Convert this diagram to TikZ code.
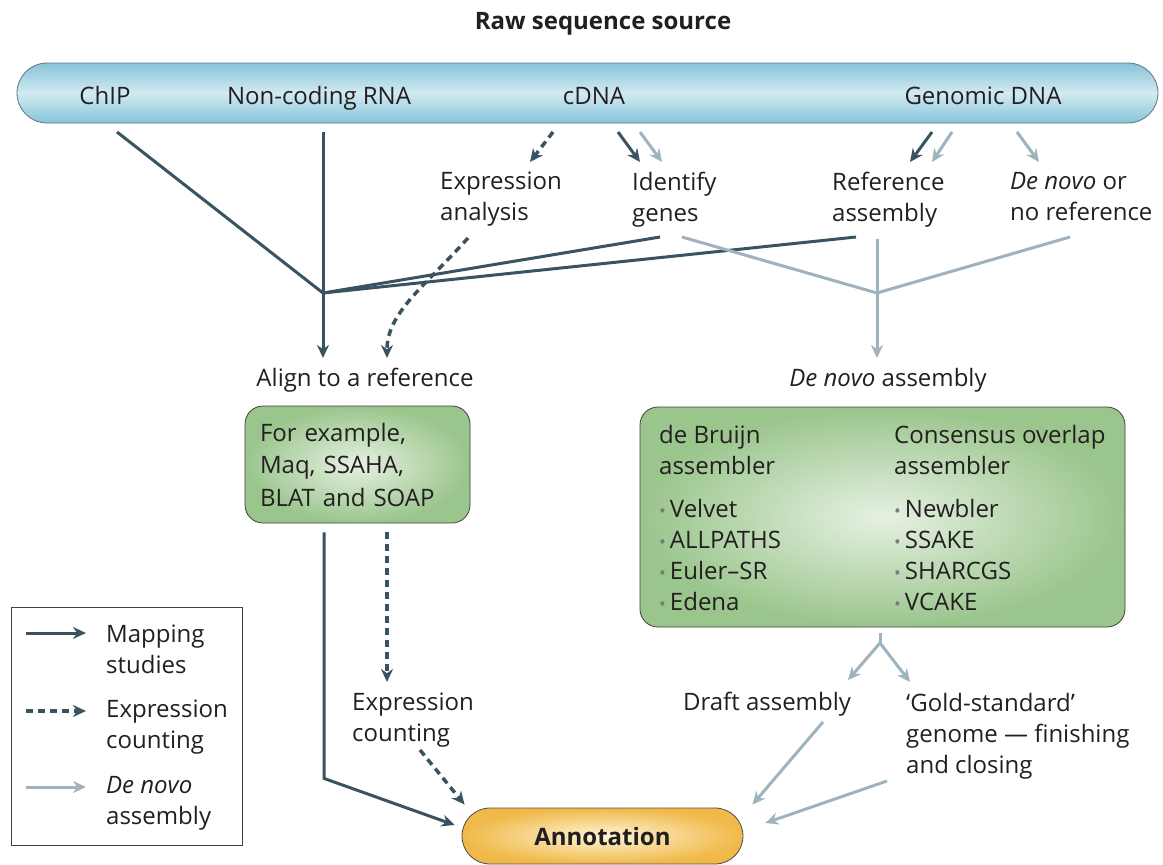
\documentclass[tikz,border=0pt]{standalone}
\usepackage{fontspec}
\setmainfont{Open Sans}
\usetikzlibrary{arrows.meta}

\definecolor{mapdark}{HTML}{3A5361}
\definecolor{dnlight}{HTML}{9FB3BF}
\definecolor{ink}{HTML}{231F20}
\definecolor{barblue}{HTML}{86C4D9}
\definecolor{barpale}{HTML}{D2EAF1}
\definecolor{boxgreen}{HTML}{9AC58C}
\definecolor{boxpale}{HTML}{E6F1E2}
\definecolor{annorange}{HTML}{F0B94A}
\definecolor{annpale}{HTML}{FEF5D6}
\definecolor{bulletgray}{HTML}{7A7A7A}

\newcommand{\bul}{{\color{bulletgray}\fontsize{18}{18}\selectfont\textbullet}\,}

\begin{document}
\begin{tikzpicture}[x=1pt, y=-1pt,
    font=\fontsize{24}{31}\selectfont,
    >={Stealth[length=13pt,width=12pt]},
    txt/.style={
        text=ink,
        inner sep=0pt},
    srcbar/.style={
        rectangle,
        rounded corners=30pt,
        draw=mapdark!80, thick,
        top color=barblue, bottom color=barblue, middle color=barpale,
        minimum width=1141pt,
        minimum height=60pt},
    toolbox/.style={
        rectangle,
        rounded corners=18pt,
        draw=black!75, thick,
        inner color=boxpale, outer color=boxgreen,
        text=ink},
    pill/.style={
        rectangle,
        rounded corners=28pt,
        draw=black!70, thick,
        inner color=annpale, outer color=annorange,
        minimum width=281pt,
        minimum height=56pt,
        text=ink,
        font=\fontsize{24}{31}\selectfont\bfseries},
    legendbox/.style={
        rectangle,
        draw=black!75, thick,
        minimum width=231pt,
        minimum height=238pt},
    mapline/.style={
        draw=mapdark,
        line width=3pt},
    maparrow/.style={
        mapline,
        ->},
    exprarrow/.style={
        draw=mapdark,
        line width=3.5pt,
        dash pattern=on 7pt off 5pt,
        ->},
    dnline/.style={
        draw=dnlight,
        line width=3pt},
    dnarrow/.style={
        dnline,
        ->}
    ]
    \useasboundingbox (0,0) rectangle (1163,865);

    % raw sequence source
    \node (title) [txt, anchor=base, font=\fontsize{24}{31}\selectfont\bfseries] at (603,29) {Raw sequence source};
    \node (source) [srcbar] at (587.5,93) {};
    \node (chip) [txt, anchor=base] at (105,104) {ChIP};
    \node (ncrna) [txt, anchor=base] at (319,104) {Non-coding RNA};
    \node (cdna) [txt, anchor=base] at (594,104) {cDNA};
    \node (gdna) [txt, anchor=base] at (983,104) {Genomic DNA};

    % second row
    \node (expr) [txt, anchor=north west, align=left] at (440,172) {Expression\\analysis};
    \node (identify) [txt, anchor=north west, align=left] at (632,172) {Identify\\genes};
    \node (refasm) [txt, anchor=north west, align=left] at (832,172) {Reference\\assembly};
    \node (denovo) [txt, anchor=north west, align=left] at (1010,172) {\textit{De novo} or\\no reference};

    \coordinate (mapj) at (323,293);
    \coordinate (dnj) at (877,293);

    \node (align) [txt, anchor=base] at (365,386) {Align to a reference};
    \node (dnasm) [txt, anchor=base] at (888,386) {\textit{De novo} assembly};

    % tools
    \node (alignbox) [toolbox, minimum width=225pt, minimum height=117pt, text width=195pt, align=left,
        font=\fontsize{24}{32.5}\selectfont] at (357.5,464.5) {For example,\\Maq, SSAHA,\\BLAT and SOAP};
    \node (asmbox) [toolbox, minimum width=485pt, minimum height=220pt] at (882.5,517) {};
    \node (dbg) [txt, anchor=north west, align=left] at (659,425)
        {de Bruijn\\assembler\\[12pt]\bul Velvet\\\bul ALLPATHS\\\bul Euler–SR\\\bul Edena};
    \node (olc) [txt, anchor=north west, align=left] at (894,425)
        {Consensus overlap\\assembler\\[12pt]\bul Newbler\\\bul SSAKE\\\bul SHARCGS\\\bul VCAKE};

    % lower part
    \node (expcount) [txt, anchor=north west, align=left] at (352,693) {Expression\\counting};
    \node (draft) [txt, anchor=base] at (767,710) {Draft assembly};
    \node (gold) [txt, anchor=north west, align=left] at (906,693) {‘Gold-standard’\\genome — finishing\\and closing};
    \node (annot) [pill] at (602.5,836) {Annotation};
    \coordinate (split) at (880,643);

    % legend
    \node (legend) [legendbox] at (126.5,726) {};
    \node (mapleg) [txt, anchor=north west, align=left] at (106,625) {Mapping\\studies};
    \node (exprleg) [txt, anchor=north west, align=left] at (106,700) {Expression\\counting};
    \node (dnleg) [txt, anchor=north west, align=left] at (106,776) {\textit{De novo}\\assembly};

    % mapping studies
    \draw [mapline] ([xshift=12pt,yshift=-28pt]chip.base) -- (mapj);
    \draw [mapline] ([xshift=4pt,yshift=-28pt]ncrna.base) -- (mapj);
    \draw [mapline] ([xshift=28pt,yshift=-65pt]identify.north west) -- (mapj);
    \draw [mapline] ([xshift=24pt,yshift=-65pt]refasm.north west) -- (mapj);
    \draw [maparrow] (mapj) -- ([xshift=-42pt,yshift=28pt]align.base);
    \draw [maparrow] ([xshift=24pt,yshift=-28pt]cdna.base) -- ([xshift=8pt,yshift=10pt]identify.north west);
    \draw [maparrow] ([xshift=-51pt,yshift=-28pt]gdna.base) -- ([xshift=78pt,yshift=10pt]refasm.north west);
    \draw [maparrow] ([xshift=-33.5pt,yshift=-9pt]alignbox.south) -- ++(0,246) -- ([xshift=-7pt,yshift=11pt]annot.west);

    % expression counting
    \draw [exprarrow] ([xshift=-41pt,yshift=-28pt]cdna.base) -- ([xshift=90pt,yshift=10pt]expr.north west);
    \draw [exprarrow] ([xshift=28pt,yshift=-66pt]expr.north west) .. controls (423,288) and (387,313) .. ([xshift=22pt,yshift=28pt]align.base);
    \draw [exprarrow] ([xshift=29.5pt,yshift=-9pt]alignbox.south) -- ([xshift=35pt,yshift=11pt]expcount.north west);
    \draw [exprarrow] ([xshift=68pt,yshift=-57pt]expcount.north west) -- ([xshift=3pt,yshift=3pt]annot.north west);

    % de novo assembly
    \draw [dnarrow] ([xshift=46pt,yshift=-28pt]cdna.base) -- ([xshift=30pt,yshift=10pt]identify.north west);
    \draw [dnarrow] ([xshift=-31pt,yshift=-28pt]gdna.base) -- ([xshift=100pt,yshift=10pt]refasm.north west);
    \draw [dnarrow] ([xshift=34pt,yshift=-28pt]gdna.base) -- ([xshift=29pt,yshift=10pt]denovo.north west);
    \draw [dnline] ([xshift=50pt,yshift=-65pt]identify.north west) -- (dnj);
    \draw [dnline] ([xshift=45pt,yshift=-67pt]refasm.north west) -- (dnj);
    \draw [dnline] ([xshift=60pt,yshift=-65pt]denovo.north west) -- (dnj);
    \draw [dnarrow] (dnj) -- ([xshift=-11pt,yshift=28pt]dnasm.base);
    \draw [dnline] ([xshift=-2.5pt,yshift=-6pt]asmbox.south) -- (split);
    \draw [dnarrow] (split) -- ([xshift=81pt,yshift=30pt]draft.base);
    \draw [dnarrow] (split) -- ([xshift=4pt,yshift=11pt]gold.north west);
    \draw [dnarrow] ([xshift=56pt,yshift=-12pt]draft.base) -- ([xshift=9pt,yshift=3pt]annot.north east);
    \draw [dnarrow] ([xshift=-19pt,yshift=-88pt]gold.north west) -- ([xshift=22pt,yshift=13pt]annot.east);

    % legend arrows
    \draw [maparrow] ([xshift=-80pt,yshift=-8pt]mapleg.north west) -- ([xshift=-20pt,yshift=-8pt]mapleg.north west);
    \draw [exprarrow] ([xshift=-80pt,yshift=-11pt]exprleg.north west) -- ([xshift=-20pt,yshift=-11pt]exprleg.north west);
    \draw [dnarrow] ([xshift=-80pt,yshift=-11pt]dnleg.north west) -- ([xshift=-20pt,yshift=-11pt]dnleg.north west);

\end{tikzpicture}
\end{document}
